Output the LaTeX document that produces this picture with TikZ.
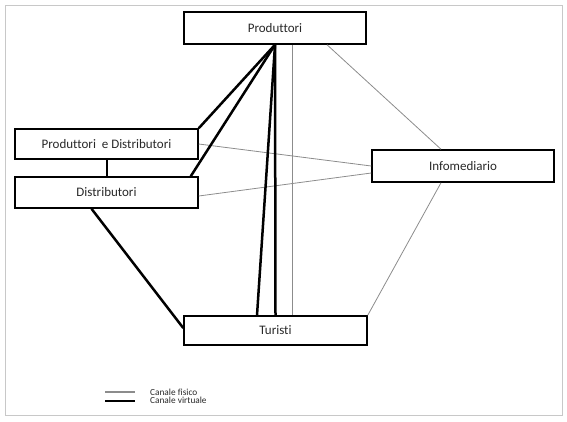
\documentclass[tikz,border=0pt]{standalone}
\usepackage{fontspec}
\setmainfont{Carlito}[Ligatures={NoCommon}]
\usetikzlibrary{calc}
\definecolor{framegray}{RGB}{200,200,200}
\definecolor{thingray}{RGB}{140,140,140}
\definecolor{textcol}{RGB}{40,40,40}
\begin{document}
\begin{tikzpicture}[x=1pt,y=-1pt,
  box/.style={draw=black,line width=1.5pt,rectangle,inner sep=0pt,font=\fontsize{13}{15}\selectfont,text=textcol},
  virt/.style={draw=black,line width=2.5pt},
  fis/.style={draw=thingray,line width=0.8pt},
  legtext/.style={font=\fontsize{9.3}{10}\selectfont,text=textcol,anchor=west,inner sep=0pt}]
\useasboundingbox (0,0) rectangle (567,421);
\draw[framegray,line width=1pt] (5,5) rectangle (562,415);
% boxes
\node[box,minimum width=182pt,minimum height=32pt] (P) at (275,28) {Produttori};
\node[box,minimum width=183pt,minimum height=30pt] (PD) at (106.5,144) {Produttori\ \ e Distributori};
\node[box,minimum width=183pt,minimum height=31pt] (D) at (106.5,192.5) {Distributori};
\node[box,minimum width=182pt,minimum height=32pt] (I) at (463,166) {Infomediario};
\node[box,minimum width=183pt,minimum height=29pt] (T) at (275.5,330.5) {Turisti};
% thin (physical) channels
\draw[fis] ([xshift=17pt]P.south) -- ([xshift=16.5pt]T.north);
\draw[fis] ([xshift=52pt]P.south) -- ([xshift=-22pt]I.north);
\draw[fis] ([xshift=-22pt]I.south) -- (T.north east);
\draw[fis] (PD.east) -- (I.west);
\draw[fis] ([yshift=-3.5pt]D.east) -- ([yshift=-7pt]I.west);
% thick (virtual) channels
\draw[virt] (P.south) -- (PD.north east);
\draw[virt] (P.south) -- ([xshift=-8pt]D.north east);
\draw[virt] (P.south) -- (T.north);
\draw[virt] (P.south) -- ([xshift=-18.5pt]T.north);
\draw[virt] ([xshift=0.5pt]PD.south) -- ([xshift=0.5pt]D.north);
\draw[virt] ([xshift=-15pt]D.south) -- ([yshift=2.5pt]T.west);
% legend
\coordinate (l1a) at (105,392);
\coordinate (l1b) at (135,392);
\coordinate (l2a) at (105,401);
\coordinate (l2b) at (135,401);
\draw[thingray,line width=1.2pt] (l1a) -- (l1b);
\draw[black,line width=2pt] (l2a) -- (l2b);
\node[legtext] (lt1) at (150,392) {Canale fisico};
\node[legtext] (lt2) at (150,400.5) {Canale virtuale};
\end{tikzpicture}
\end{document}
